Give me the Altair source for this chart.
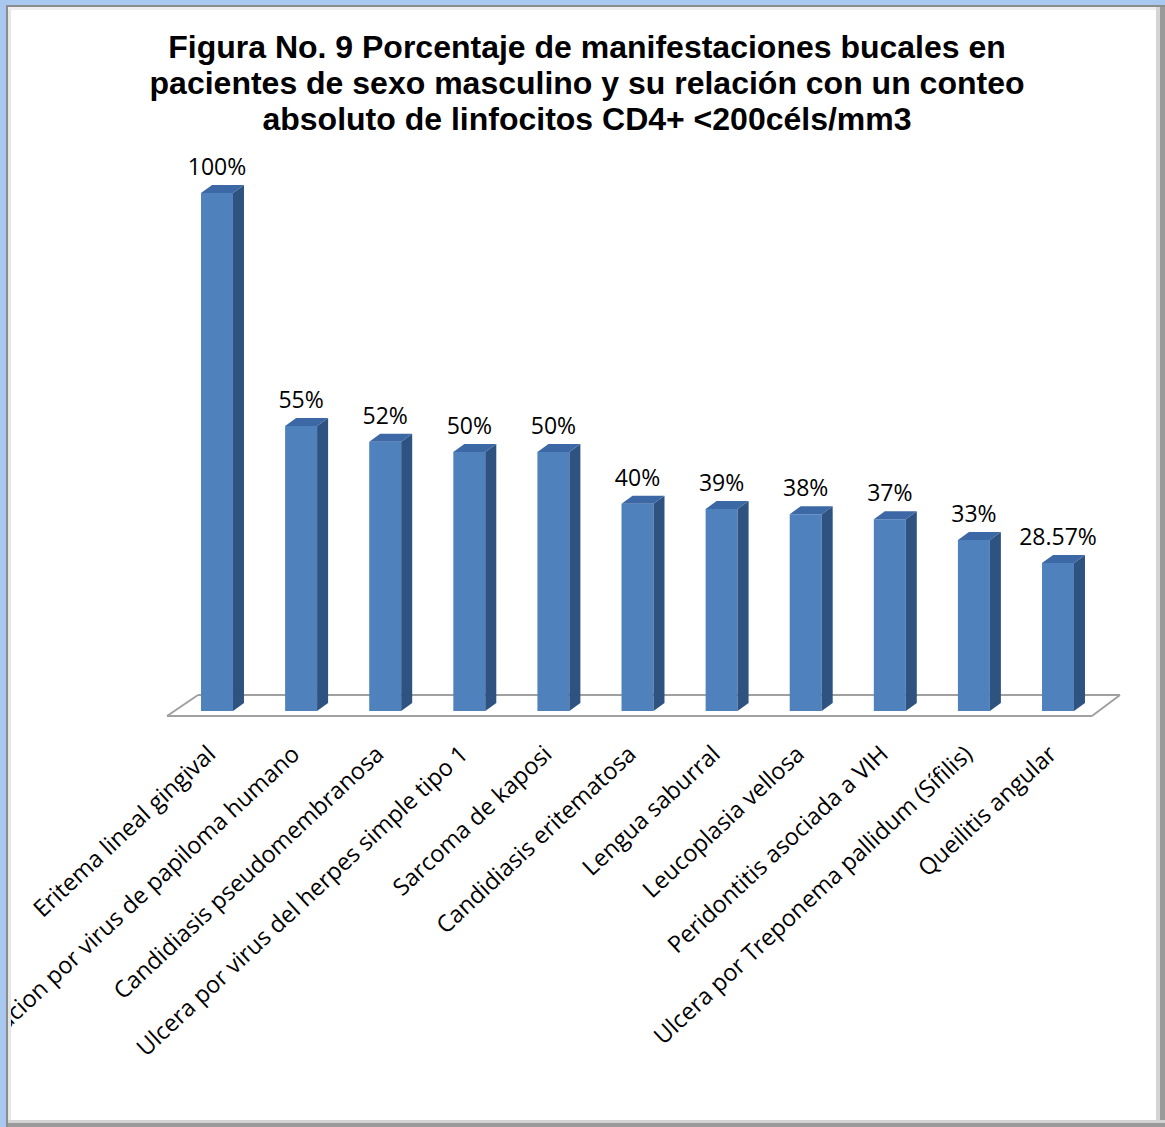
import altair as alt
import pandas as pd

categories = [
    "Eritema lineal gingival",
    "Infestacion por virus de papiloma humano",
    "Candidiasis pseudomembranosa",
    "Ulcera por virus del herpes simple tipo 1",
    "Sarcoma de kaposi",
    "Candidiasis eritematosa",
    "Lengua saburral",
    "Leucoplasia vellosa",
    "Peridontitis asociada a VIH",
    "Ulcera por Treponema pallidum (Sífilis)",
    "Queilitis angular",
]
values = [100, 55, 52, 50, 50, 40, 39, 38, 37, 33, 28.57]
value_labels = ["100%", "55%", "52%", "50%", "50%", "40%", "39%", "38%", "37%", "33%", "28.57%"]

title_text = ("Figura No. 9 Porcentaje de manifestaciones bucales en\n"
              "pacientes de sexo masculino y su relación con un conteo\n"
              "absoluto de linfocitos CD4+ <200céls/mm3")

# 3D look constants (in data units)
HW = 0.19   # half width of front face
DX = 0.131  # depth in x
DY = 1.545  # depth in y

bars = pd.DataFrame({
    "cat": categories,
    "value": values,
    "label": value_labels,
    "idx": list(range(len(categories))),
})
faces = bars.merge(pd.DataFrame({"k": [0, 1]}), how="cross")
one = pd.DataFrame({"a": [0]})

xs = alt.Scale(domain=[0, 10], range=[217, 1058], zero=False, nice=False)
ys = alt.Scale(domain=[0, 100], range=[711, 193], zero=False, nice=False)

FRONT = "#4F81BD"
SIDE = "#2F5380"
TOP = "#3C69A5"

front = alt.Chart(bars).transform_calculate(
    x1=f"datum.idx - {HW}", x2=f"datum.idx + {HW}", base="0"
).mark_rect(color=FRONT).encode(
    x=alt.X("x1:Q", scale=xs, axis=None),
    x2="x2:Q",
    y=alt.Y("value:Q", scale=ys, axis=None),
    y2="base:Q",
)

side = alt.Chart(faces).transform_calculate(
    sx=f"datum.idx + {HW} + datum.k * {DX}",
    sy=f"datum.value + datum.k * {DY}",
    sy2=f"datum.k * {DY}",
).mark_area(orient="vertical", color=SIDE).encode(
    x=alt.X("sx:Q", scale=xs, axis=None),
    y=alt.Y("sy:Q", scale=ys, axis=None, stack=None),
    y2="sy2:Q",
    detail="cat:N",
)

top = alt.Chart(faces).transform_calculate(
    ty=f"datum.value + datum.k * {DY}",
    tx=f"datum.idx - {HW} + datum.k * {DX}",
    tx2=f"datum.idx + {HW} + datum.k * {DX}",
).mark_area(orient="horizontal", color=TOP).encode(
    y=alt.Y("ty:Q", scale=ys, axis=None),
    x=alt.X("tx:Q", scale=xs, axis=None, stack=None),
    x2="tx2:Q",
    detail="cat:N",
)

value_text = alt.Chart(bars).mark_text(
    font="Open Sans", fontSize=23, color="black", align="center",
    baseline="alphabetic", dy=-18
).encode(
    x=alt.X("idx:Q", scale=xs, axis=None),
    y=alt.Y("value:Q", scale=ys, axis=None),
    text="label:N",
)

axis_text = alt.Chart(bars).mark_text(
    font="Open Sans", fontSize=23.5, color="black", align="right",
    baseline="alphabetic", angle=317, xOffset=0
).encode(
    x=alt.X("idx:Q", scale=xs, axis=None),
    y=alt.value(756),
    text="cat:N",
)

FLOOR = "#A0A0A0"
def rule(x1, y1, x2, y2, color=FLOOR, w=2):
    return alt.Chart(one).mark_rule(color=color, strokeWidth=w).encode(
        x=alt.value(x1), y=alt.value(y1), x2=alt.value(x2), y2=alt.value(y2)
    )

floor = [
    rule(167, 716, 1092, 716),
    rule(198, 695, 1120, 695),
    rule(167, 716, 198, 695),
    rule(1092, 716, 1120, 695),
]

def rect(x1, y1, x2, y2, color):
    return alt.Chart(one).mark_rect(color=color).encode(
        x=alt.value(x1), y=alt.value(y1), x2=alt.value(x2), y2=alt.value(y2)
    )

frame = [
    rect(0, 0, 1165, 5, "#A8C8F0"),
    rect(0, 0, 6, 1127, "#A8C8F0"),
    rect(6, 5, 8, 1127, "#8C8C8C"),
    rect(6, 5, 1165, 7, "#8C8C8C"),
    rect(8, 7, 11, 1127, "#E6E6E6"),
    rect(8, 7, 1165, 10, "#EEEEEE"),
    rect(1156, 7, 1160, 1127, "#D4D4D4"),
    rect(1160, 7, 1165, 1127, "#9A9A9A"),
    rect(8, 1120, 1165, 1123, "#D4D4D4"),
    rect(8, 1123, 1165, 1127, "#9A9A9A"),
]

title = alt.Chart(one).mark_text(
    font="Liberation Sans", fontSize=32, fontWeight="bold", color="black",
    align="center", baseline="alphabetic", lineBreak="\n", lineHeight=36
).encode(
    x=alt.value(587), y=alt.value(58), text=alt.value(title_text)
)

chart = alt.layer(
    *floor, front, side, top, value_text, axis_text, title, *frame
).properties(
    width=1165, height=1127,
    autosize=alt.AutoSizeParams(type="none"),
    padding=0,
    background="white",
).configure_view(stroke=None)

chart.save("out.html", embed_options={"renderer": "svg", "actions": False})
